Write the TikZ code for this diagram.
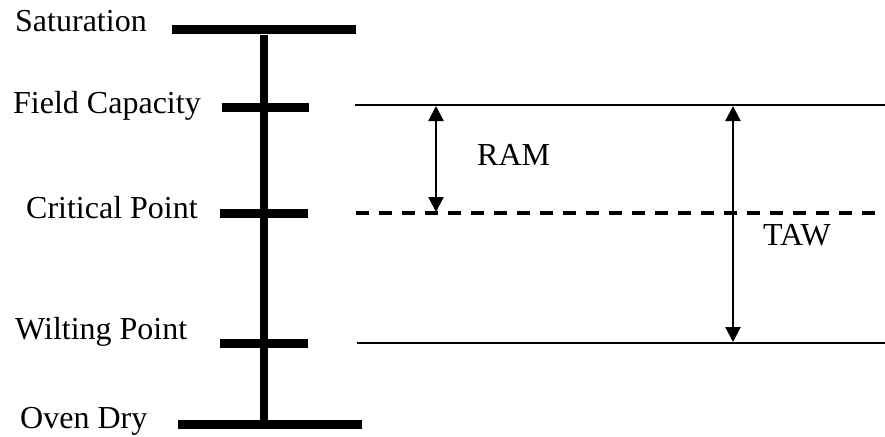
\documentclass[tikz,border=0pt]{standalone}
\usepackage{fontspec}
\setmainfont{Liberation Serif}
\usetikzlibrary{arrows.meta}
\begin{document}
\begin{tikzpicture}[x=1pt,y=-1pt,
  lbl/.style={anchor=base west,inner sep=0pt,font=\fontsize{32}{38}\selectfont},
  bar/.style={line width=9pt},
  axis/.style={line width=8pt},
  level/.style={line width=1.6pt},
  dashlevel/.style={line width=3.5pt,dash pattern=on 13pt off 10pt},
  dim/.style={line width=2.2pt,{Triangle[width=15pt,length=15pt]}-{Triangle[width=15pt,length=15pt]},shorten <=1pt,shorten >=1pt}]
\useasboundingbox (0,0) rectangle (885,436);
% scale
\coordinate (satL) at (172,30);
\coordinate (satR) at (356,30);
\coordinate (axT) at (264,35);
\coordinate (axB) at (264,429);
\coordinate (fcL) at (222,107);
\coordinate (fcR) at (309,107);
\coordinate (cpL) at (220,213.5);
\coordinate (cpR) at (308,213.5);
\coordinate (wpL) at (220,343);
\coordinate (wpR) at (308,343);
\coordinate (odL) at (178,424);
\coordinate (odR) at (362,424);
\draw[bar] (satL) -- (satR);
\draw[axis] (axT) -- (axB);
\draw[bar] (fcL) -- (fcR);
\draw[bar] (cpL) -- (cpR);
\draw[bar] (wpL) -- (wpR);
\draw[bar] (odL) -- (odR);
% levels
\coordinate (l1a) at (355,105);
\coordinate (l1b) at (885,105);
\coordinate (l2a) at (356,213);
\coordinate (l2b) at (885,213);
\coordinate (l3a) at (357,343);
\coordinate (l3b) at (885,343);
\draw[level] (l1a) -- (l1b);
\draw[dashlevel] (l2a) -- (l2b);
\draw[level] (l3a) -- (l3b);
% dimensions
\coordinate (ramT) at (436,105);
\coordinate (ramB) at (436,213);
\coordinate (tawT) at (733,105);
\coordinate (tawB) at (733,343);
\draw[dim] (ramT) -- (ramB);
\draw[dim] (tawT) -- (tawB);
% labels
\node[lbl] (sat) at (15,32) {Saturation};
\node[lbl] (fc) at (13,113) {Field Capacity};
\node[lbl] (cp) at (26,218) {Critical Point};
\node[lbl] (wp) at (15,339) {Wilting Point};
\node[lbl] (od) at (20,428) {Oven Dry};
\node[lbl] (ram) at (477,165) {RAM};
\node[lbl] (taw) at (763,245) {TAW};
\end{tikzpicture}
\end{document}
